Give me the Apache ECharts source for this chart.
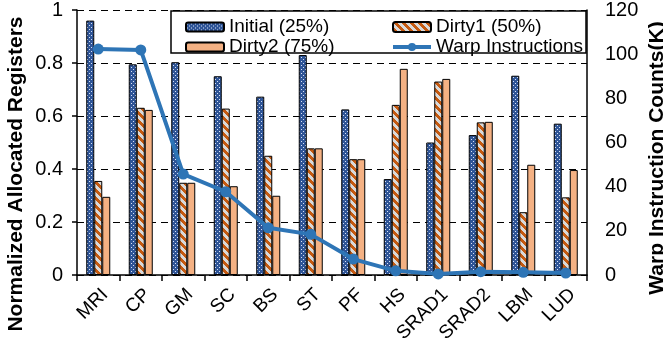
<!DOCTYPE html>
<html><head><meta charset="utf-8">
<script src="https://cdn.jsdelivr.net/npm/echarts@6/dist/echarts.min.js"></script>
<style>html,body{margin:0;padding:0;background:#fff}#c{width:663px;height:350px}</style>
</head><body><div id="c"></div>
<script>
const categories = ['MRI','CP','GM','SC','BS','ST','PF','HS','SRAD1','SRAD2','LBM','LUD'];
const initial = [0.96,0.795,0.803,0.75,0.673,0.83,0.625,0.362,0.50,0.528,0.752,0.571];
const dirty1 = [0.355,0.631,0.348,0.628,0.45,0.478,0.437,0.642,0.73,0.576,0.237,0.293];
const dirty2 = [0.295,0.623,0.348,0.335,0.299,0.478,0.437,0.778,0.74,0.578,0.416,0.396];
const warp = [102.3,101.9,45.7,37.7,21.4,18.4,7.2,1.9,0.5,1.5,1.2,0.9];
const leftTicks = [0,0.2,0.4,0.6,0.8,1];
const rightTicks = [0,20,40,60,80,100,120];

function makePattern(w,h,fn){
  const c=document.createElement('canvas');c.width=w;c.height=h;
  const ctx=c.getContext('2d');const img=ctx.createImageData(w,h);
  for(let y=0;y<h;y++)for(let x=0;x<w;x++){const col=fn(x,y);const i=(y*w+x)*4;
    img.data[i]=col[0];img.data[i+1]=col[1];img.data[i+2]=col[2];img.data[i+3]=255;}
  ctx.putImageData(img,0,0);return c;
}
const dots = makePattern(4,4,(x,y)=>((x===1&&y===1)||(x===3&&y===3))?[215,225,245]:[47,85,151]);
const stripes = makePattern(8,8,(x,y)=>(((x-y)%8+8)%8<4)?[197,90,17]:[217,217,217]);

const FONT='Liberation Sans, Arial, sans-serif';
const chart = echarts.init(document.getElementById('c'),null,{renderer:'canvas'});
chart.setOption({
  animation:false,
  grid:{left:77,right:76,top:10,bottom:75,containLabel:false},
  legend:[
    {orient:'vertical',left:180,top:12,itemGap:0,itemWidth:38,itemHeight:9,
     data:['Initial (25%)','Dirty2 (75%)'],
     textStyle:{fontFamily:FONT,fontSize:19,color:'#000',lineHeight:20}},
    {orient:'vertical',left:386,top:12,itemGap:0,itemWidth:38,itemHeight:10,
     data:['Dirty1 (50%)',{name:'Warp Instructions',lineStyle:{width:4}}],
     lineStyle:{width:4},
     textStyle:{fontFamily:FONT,fontSize:19,color:'#000',lineHeight:20}}
  ],
  graphic:[
    {type:'rect',z:3,shape:{x:171,y:11,width:415,height:42},style:{fill:'#fff',stroke:'#000',lineWidth:1.5}},
    {type:'text',z:5,x:16,y:174,rotation:Math.PI/2,style:{text:'Normalized Allocated Registers',font:'bold 21px '+FONT,fill:'#000',textAlign:'center',textVerticalAlign:'middle'}},
    {type:'text',z:5,x:657,y:158,rotation:Math.PI/2,style:{text:'Warp Instruction Counts(K)',font:'bold 21px '+FONT,fill:'#000',textAlign:'center',textVerticalAlign:'middle'}}
  ],
  xAxis:{type:'category',data:categories,
    axisLine:{lineStyle:{color:'#000',width:1.5}},
    axisTick:{show:true,length:6,alignWithLabel:false,lineStyle:{color:'#000',width:1.5}},
    axisLabel:{rotate:45,margin:10,verticalAlign:'top',fontFamily:FONT,fontSize:19,color:'#000',interval:0}},
  yAxis:[
    {type:'value',min:leftTicks[0],max:leftTicks[leftTicks.length-1],interval:0.2,
     axisLine:{show:true,lineStyle:{color:'#000',width:1.5}},
     axisTick:{show:true,length:5,lineStyle:{color:'#000',width:1.5}},
     axisLabel:{margin:14,fontFamily:FONT,fontSize:20,color:'#000'},
     splitLine:{show:true,lineStyle:{color:'#000',type:[7,5],width:1.2}}},
    {type:'value',min:rightTicks[0],max:rightTicks[rightTicks.length-1],interval:20,position:'right',
     axisLine:{show:true,lineStyle:{color:'#000',width:1.5}},
     axisTick:{show:false},
     axisLabel:{margin:18,fontFamily:FONT,fontSize:20,color:'#000'},
     splitLine:{show:false}}
  ],
  series:[
    {name:'Initial (25%)',type:'bar',data:initial,barWidth:8,barGap:'0%',
     itemStyle:{color:{image:dots,repeat:'repeat'},borderColor:'#000',borderWidth:1}},
    {name:'Dirty1 (50%)',type:'bar',data:dirty1,barWidth:8,barGap:'0%',
     itemStyle:{color:{image:stripes,repeat:'repeat'},borderColor:'#000',borderWidth:1}},
    {name:'Dirty2 (75%)',type:'bar',data:dirty2,barWidth:8,barGap:'0%',
     itemStyle:{color:'#F4B183',borderColor:'#000',borderWidth:1}},
    {name:'Warp Instructions',type:'line',yAxisIndex:1,data:warp,z:6,
     symbol:'circle',symbolSize:11,
     lineStyle:{color:'#2E75B6',width:4},itemStyle:{color:'#2E75B6'}}
  ]
});
</script></body></html>
